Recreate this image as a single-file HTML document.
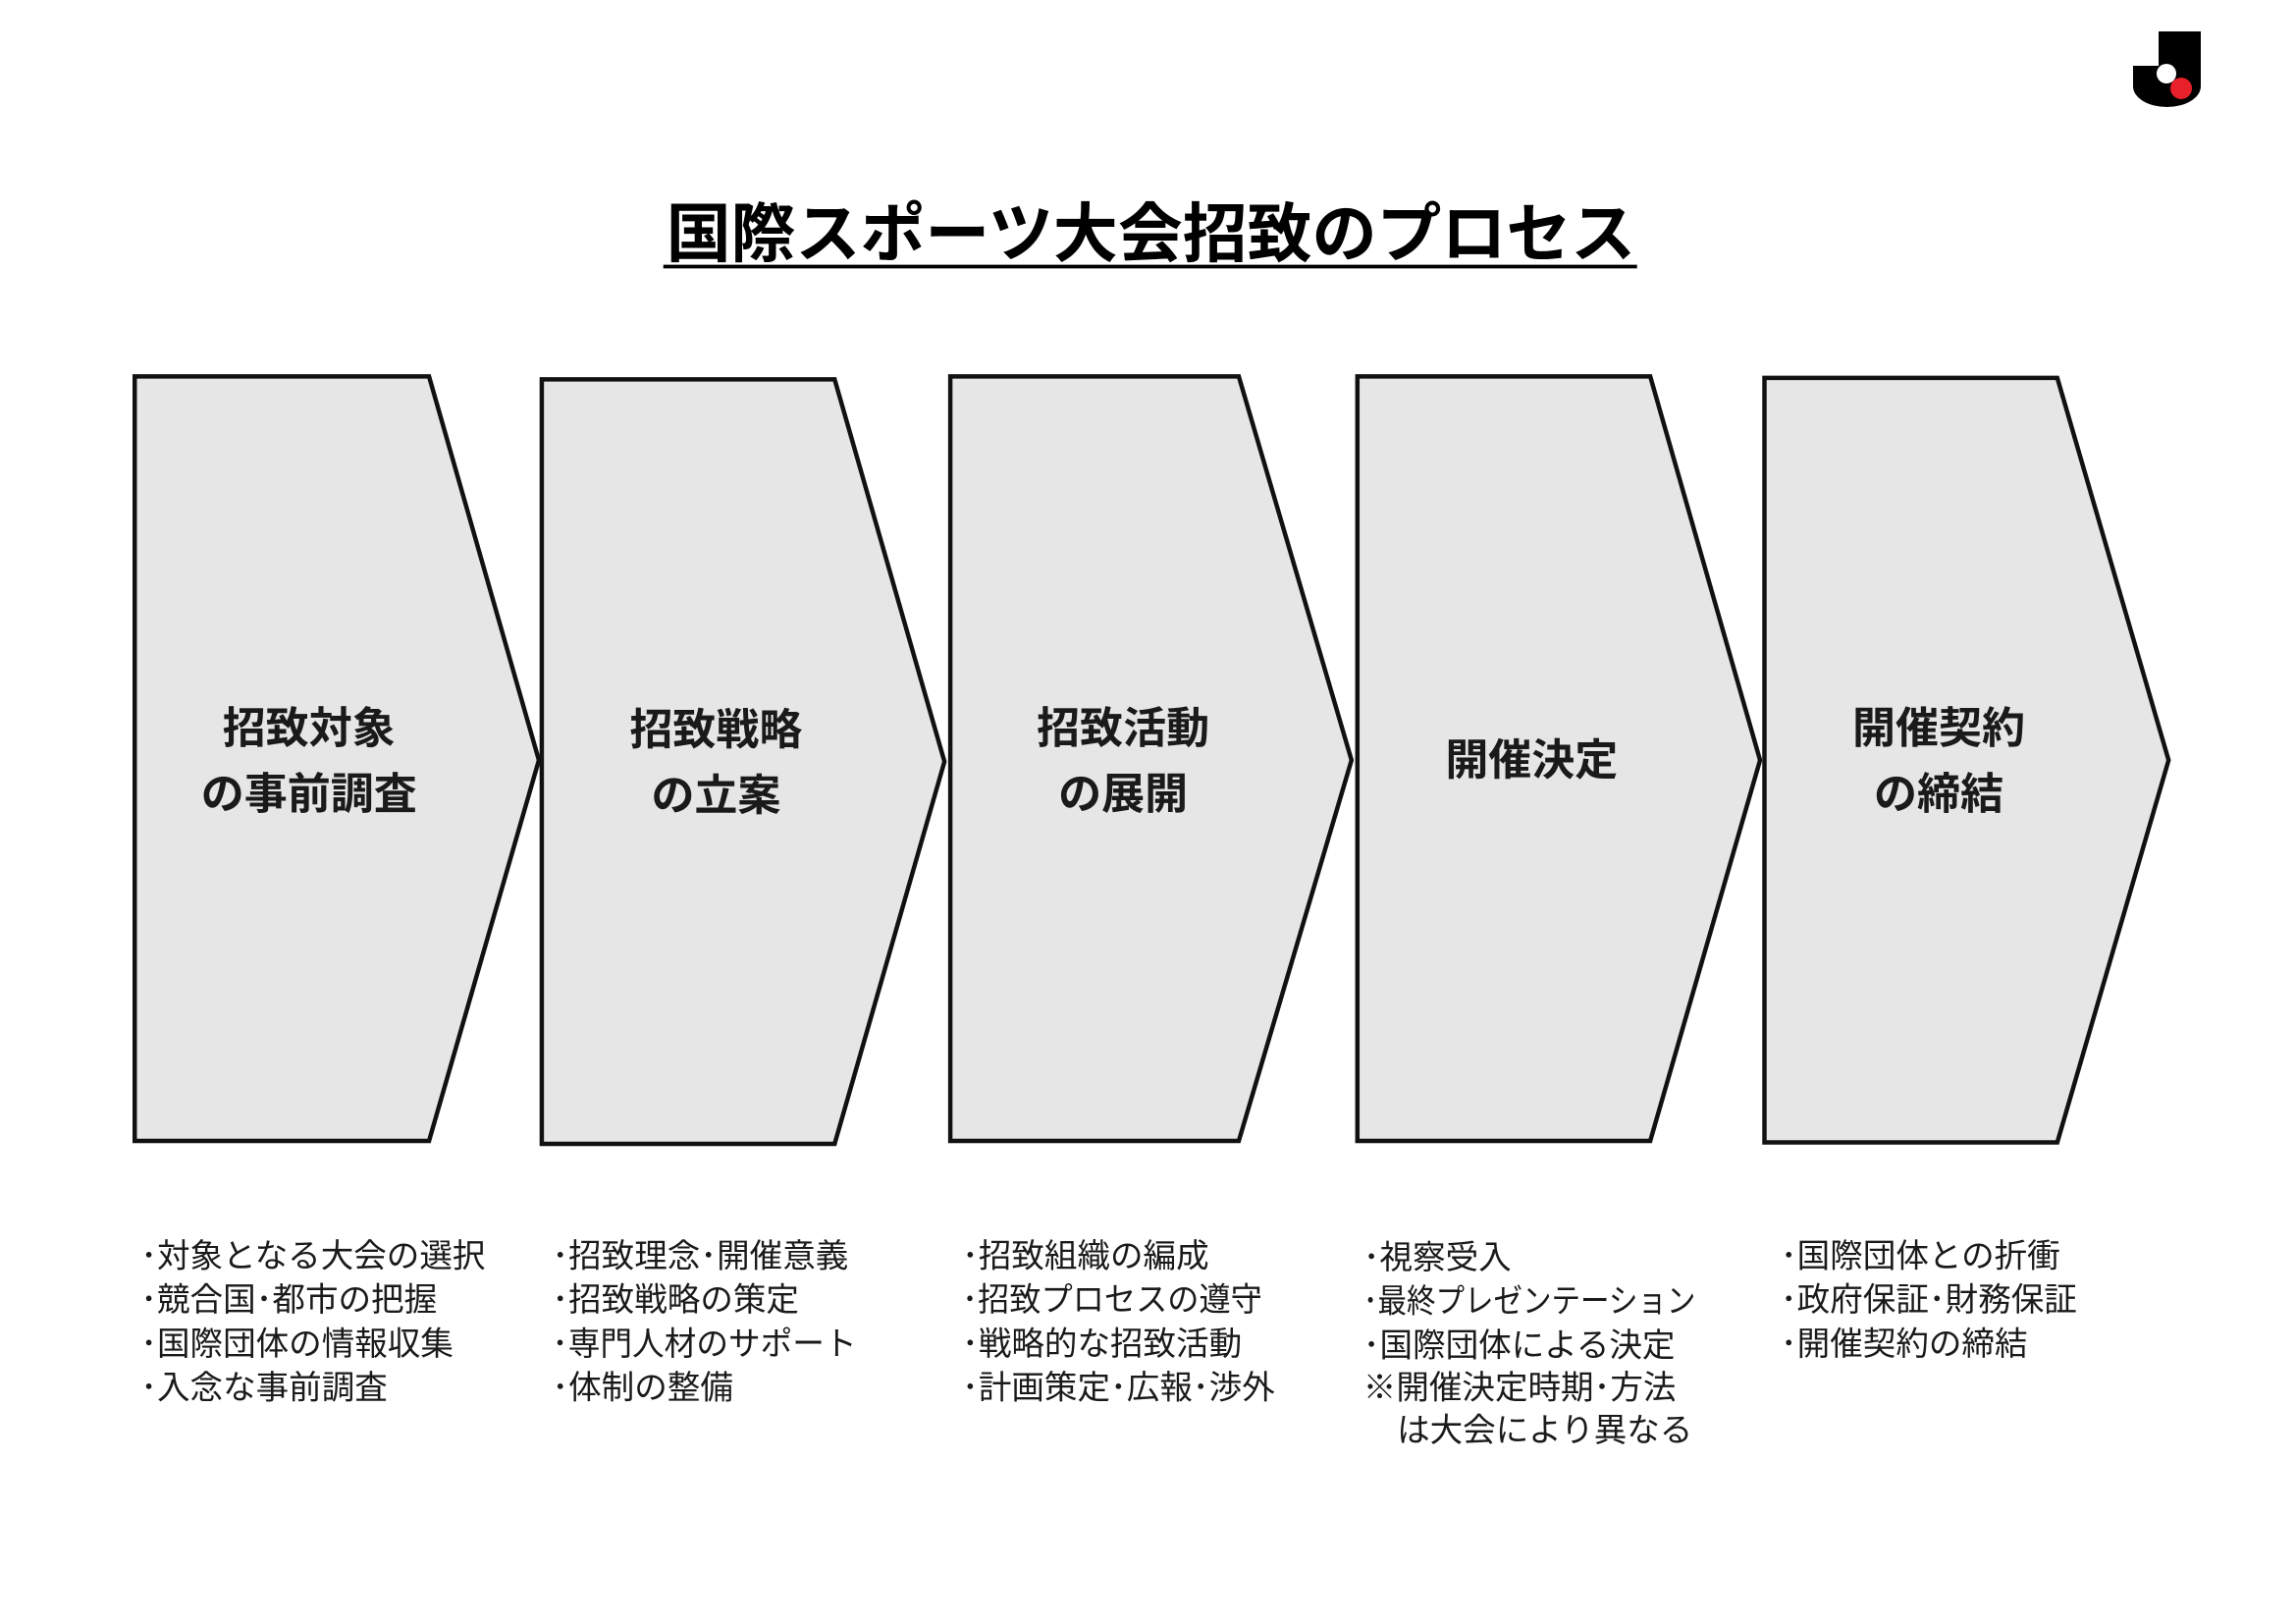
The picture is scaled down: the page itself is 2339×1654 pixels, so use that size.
<!DOCTYPE html>
<html><head><meta charset="utf-8"><style>
html,body{margin:0;padding:0;background:#fff;}
svg{display:block;}
text{font-family:"Liberation Sans","Noto Sans CJK JP",sans-serif;fill:#1a1a1a;}
.b{font-weight:bold;font-size:29.5px;text-anchor:middle;}
.l{font-size:22.5px;}
</style></head><body>
<svg width="2339" height="1654" viewBox="0 0 2339 1654" xmlns="http://www.w3.org/2000/svg">
<rect width="2339" height="1654" fill="#fff"/>
<path d="M2199 32 H2242 V88 A34.5 21 0 0 1 2173 88 V67 H2199 Z" fill="#000"/>
<circle cx="2207" cy="75" r="10" fill="#fff"/>
<circle cx="2222" cy="90" r="11" fill="#e8202a"/>
<g transform="scale(1.4917)">
<text x="786" y="175" style="font-size:44px;font-weight:bold;text-anchor:middle;fill:#000" textLength="662" lengthAdjust="spacingAndGlyphs">国際スポーツ大会招致のプロセス</text>
<line x1="453" y1="182" x2="1118" y2="182" stroke="#000" stroke-width="2.5"/>
<g fill="#e6e6e6" stroke="#111" stroke-width="3">
<polygon points="92,257 293,257 368,519 293,779 92,779"/>
<polygon points="370,259 570,259 645,520 570,781 370,781"/>
<polygon points="649,257 846,257 923,519 846,779 649,779"/>
<polygon points="927,257 1127,257 1202,519 1127,779 927,779"/>
<polygon points="1205,258 1405,258 1481,519 1405,780 1205,780"/>
</g>
<text class="b" x="211" y="507">招致対象</text><text class="b" x="211" y="552">の事前調査</text>
<text class="b" x="489" y="508">招致戦略</text><text class="b" x="489" y="553">の立案</text>
<text class="b" x="767" y="507">招致活動</text><text class="b" x="767" y="552">の展開</text>
<text class="b" x="1046" y="529">開催決定</text>
<text class="b" x="1324" y="507">開催契約</text><text class="b" x="1324" y="552">の締結</text>
<g class="l">
<text class="l" x="96" y="865">･対象となる大会の選択</text>
<text class="l" x="96" y="895">･競合国･都市の把握</text>
<text class="l" x="96" y="925">･国際団体の情報収集</text>
<text class="l" x="96" y="955">･入念な事前調査</text>
<text class="l" x="377" y="865">･招致理念･開催意義</text>
<text class="l" x="377" y="895">･招致戦略の策定</text>
<text class="l" x="377" y="925" textLength="208" lengthAdjust="spacingAndGlyphs">･専門人材のサポート</text>
<text class="l" x="377" y="955">･体制の整備</text>
<text class="l" x="657" y="865">･招致組織の編成</text>
<text class="l" x="657" y="895" textLength="205" lengthAdjust="spacingAndGlyphs">･招致プロセスの遵守</text>
<text class="l" x="657" y="925">･戦略的な招致活動</text>
<text class="l" x="657" y="955">･計画策定･広報･渉外</text>
<text class="l" x="931" y="866">･視察受入</text>
<text class="l" x="931" y="896" textLength="227" lengthAdjust="spacingAndGlyphs">･最終プレゼンテーション</text>
<text class="l" x="931" y="926">･国際団体による決定</text>
<text class="l" x="931" y="955">※開催決定時期･方法</text>
<text class="l" x="954" y="984">は大会により異なる</text>
<text class="l" x="1216" y="865">･国際団体との折衝</text>
<text class="l" x="1216" y="895">･政府保証･財務保証</text>
<text class="l" x="1216" y="925">･開催契約の締結</text>
</g>
</g>
</svg>
</body></html>
